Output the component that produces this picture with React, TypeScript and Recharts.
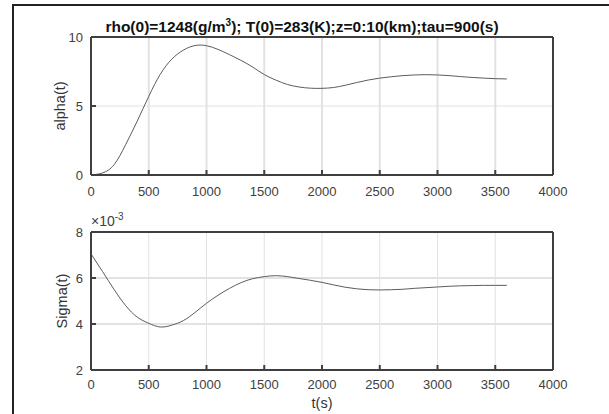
import { CartesianGrid, Line, LineChart, XAxis, YAxis } from "recharts";

const times = [
  0, 100, 200, 300, 400, 500, 600, 700, 800, 900, 1000, 1100, 1200, 1300, 1400, 1500, 1600, 1700, 1800,
  1900, 2000, 2100, 2200, 2300, 2400, 2500, 2600, 2700, 2800, 2900, 3000, 3100, 3200, 3300, 3400, 3500, 3600,
];
const alphaValues = [
  0, 0.15, 0.75, 2.2, 3.9, 5.7, 7.3, 8.4, 9.05, 9.38, 9.37, 9.1, 8.72, 8.3, 7.82, 7.28, 6.88, 6.56, 6.38,
  6.29, 6.28, 6.34, 6.5, 6.7, 6.88, 7.02, 7.12, 7.2, 7.25, 7.27, 7.25, 7.2, 7.13, 7.07, 7.02, 6.98, 6.96,
];
const sigmaValues = [
  7.05e-3, 6.28e-3, 5.5e-3, 4.8e-3, 4.3e-3, 4.03e-3, 3.87e-3, 3.95e-3, 4.15e-3, 4.5e-3, 4.9e-3, 5.25e-3,
  5.55e-3, 5.8e-3, 5.97e-3, 6.06e-3, 6.1e-3, 6.06e-3, 5.98e-3, 5.9e-3, 5.81e-3, 5.7e-3, 5.6e-3, 5.53e-3,
  5.49e-3, 5.48e-3, 5.49e-3, 5.51e-3, 5.55e-3, 5.58e-3, 5.61e-3, 5.64e-3, 5.66e-3, 5.67e-3, 5.68e-3,
  5.68e-3, 5.68e-3,
];
const xTicks = [0, 500, 1000, 1500, 2000, 2500, 3000, 3500, 4000];
const alphaTicks = [0, 5, 10];
const sigmaTicks = [0.002, 0.004, 0.006, 0.008];

const alphaData = times.map((t, i) => ({ t, v: alphaValues[i] }));
const sigmaData = times.map((t, i) => ({ t, v: sigmaValues[i] }));

const FONT = "'Liberation Sans', Arial, Helvetica, sans-serif";
const AXIS = "#3f3f3f";
const TEXT = "#404040";
const GRID = "#e2e2e2";
const boxLine = { stroke: AXIS, strokeWidth: 2 };

type PanelProps = {
  data: { t: number; v: number }[];
  yDomain: [number, number];
  yTicks: number[];
  fmt: (v: number) => string;
  top: number;
  height: number;
  marginTop: number;
  marginBottom: number;
  xLabelGap: number;
  vGrid: number;
  hGrid: number;
};

function Panel({ data, yDomain, yTicks, fmt, top, height, marginTop, marginBottom, xLabelGap, vGrid, hGrid }: PanelProps) {
  const tickStyle = { fontSize: 13, fill: TEXT, fontFamily: FONT };
  const xCommon = { dataKey: "t", type: "number" as const, domain: [0, 4000], ticks: xTicks, interval: 0 };
  const yCommon = { type: "number" as const, domain: yDomain, ticks: yTicks, interval: 0 };
  return (
    <div style={{ position: "absolute", left: 0, top }}>
      <LineChart width={609} height={height} data={data} margin={{ top: marginTop - 1, right: 55, bottom: marginBottom, left: 51 }}>
        <CartesianGrid horizontal={false} stroke={GRID} strokeWidth={vGrid} />
        <CartesianGrid vertical={false} stroke={GRID} strokeWidth={hGrid} />
        <XAxis {...xCommon} height={25} tickSize={-5} tickMargin={xLabelGap} axisLine={boxLine} tickLine={boxLine} tick={tickStyle} />
        <XAxis {...xCommon} xAxisId="tp" orientation="top" height={1} tickSize={-5} tick={false} axisLine={boxLine} tickLine={boxLine} />
        <YAxis {...yCommon} width={40} tickSize={-5} tickMargin={13} axisLine={boxLine} tickLine={boxLine} tick={tickStyle} tickFormatter={fmt} />
        <YAxis {...yCommon} yAxisId="rt" orientation="right" width={1} tickSize={-5} tick={false} axisLine={boxLine} tickLine={boxLine} />
        <Line type="natural" dataKey="v" stroke="#5c5c5c" strokeWidth={1} dot={false} isAnimationActive={false} />
      </LineChart>
    </div>
  );
}

export default function App() {
  const label = (text: string, x: number, y: number, rotate = false) => (
    <div
      style={{
        position: "absolute",
        left: x,
        top: y,
        transform: `translate(-50%, -50%)${rotate ? " rotate(-90deg)" : ""}`,
        fontFamily: FONT,
        fontSize: 14.5,
        color: "#333",
        whiteSpace: "nowrap",
        lineHeight: 1,
      }}
    >
      {text}
    </div>
  );
  return (
    <div style={{ position: "absolute", left: 0, top: 0, width: 609, height: 414, background: "#fff", overflow: "hidden" }}>
      <div style={{ position: "absolute", left: 12, top: 4, width: 620, height: 430, borderLeft: "2px solid #222", borderTop: "2px solid #222" }} />
      <Panel data={alphaData} yDomain={[0, 10]} yTicks={alphaTicks} fmt={(v) => String(v)} top={0} height={200} marginTop={37} marginBottom={0} xLabelGap={17} vGrid={2} hGrid={1} />
      <Panel
        data={sigmaData}
        yDomain={[0.002, 0.008]}
        yTicks={sigmaTicks}
        fmt={(v) => String(Math.round(v * 1000))}
        top={200}
        height={214}
        marginTop={32}
        marginBottom={19}
        xLabelGap={15}
        vGrid={1}
        hGrid={2}
      />
      <div
        style={{
          position: "absolute",
          left: 0,
          width: 604,
          top: 19,
          textAlign: "center",
          fontFamily: FONT,
          fontWeight: "bold",
          fontSize: 15.5,
          color: "#111",
          lineHeight: 1,
          whiteSpace: "nowrap",
        }}
      >
        rho(0)=1248(g/m<sup style={{ fontSize: 10, lineHeight: 0, verticalAlign: "super" }}>3</sup>); T(0)=283(K);z=0:10(km);tau=900(s)
      </div>
      <div style={{ position: "absolute", left: 91, top: 214, fontFamily: FONT, fontSize: 14, color: TEXT, lineHeight: 1, whiteSpace: "nowrap" }}>
        ×10<sup style={{ fontSize: 10, lineHeight: 0, verticalAlign: "super" }}>-3</sup>
      </div>
      {label("alpha(t)", 60, 106, true)}
      {label("Sigma(t)", 62, 301, true)}
      {label("t(s)", 322, 403)}
    </div>
  );
}
